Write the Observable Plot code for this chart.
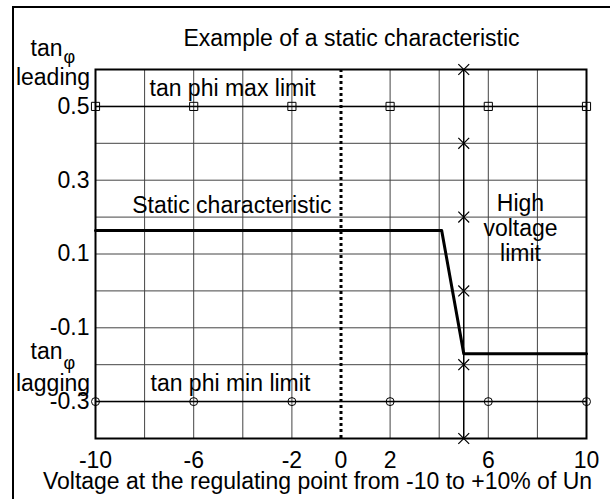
<!DOCTYPE html>
<html><head><meta charset="utf-8">
<script src="https://cdn.jsdelivr.net/npm/d3@7"></script>
<script src="https://cdn.jsdelivr.net/npm/@observablehq/plot@0.6"></script>
<style>
html,body{margin:0;padding:0;background:#fff;overflow:hidden;}
#wrap{position:relative;width:610px;height:499px;overflow:hidden;}
#border{position:absolute;left:12px;top:6px;width:640px;height:540px;border:2px solid #000;pointer-events:none;}
</style></head><body>
<div id="wrap"><div id="chart"></div><div id="border"></div></div>
<script>
const xTicks = [-10, -6, -2, 0, 2, 6, 10];
const yTicks = [0.5, 0.3, 0.1, -0.1, -0.3];
const gridXValues = [-8, -6, -4, -2, 2, 4, 6, 8];
const gridYValues = [-0.3, -0.2, -0.1, 0, 0.1, 0.2, 0.3, 0.4, 0.5];
const staticX = [-10, 4.1, 5, 10];
const staticY = [0.164, 0.164, -0.17, -0.17];
const limitMarkerX = [-10, -6, -2, 2, 6, 10];
const maxLimit = 0.5;
const minLimit = -0.3;
const highVoltageX = 5;
const highVoltageMarkerY = [0.6, 0.4, 0.2, 0, -0.2, -0.4];
const zeroLineX = 0;
const titleText = "Example of a static characteristic";
const xLabelText = "Voltage at the regulating point from -10 to +10% of Un";

const staticData = staticX.map((x, i) => ({x, y: staticY[i]}));

const chart = Plot.plot({
  width: 610, height: 499,
  marginLeft: 95, marginRight: 24, marginTop: 69, marginBottom: 61,
  style: {fontFamily: '"Liberation Sans", Arial, sans-serif', fontSize: "23px", color: "#000", background: "#fff", overflow: "visible"},
  x: {domain: [-10, 10], ticks: xTicks, tickSize: 0, tickPadding: 13, tickFormat: d => String(d), label: null},
  y: {domain: [-0.4, 0.6], ticks: yTicks, tickSize: 0, tickPadding: 6, tickFormat: d => String(d), label: null},
  marks: [
    Plot.ruleX(gridXValues, {stroke: "#444", strokeWidth: 1}),
    Plot.ruleY(gridYValues, {stroke: "#444", strokeWidth: 1}),
    Plot.ruleX([zeroLineX], {stroke: "#000", strokeWidth: 3, strokeDasharray: "3,3"}),
    Plot.ruleY([maxLimit], {stroke: "#000", strokeWidth: 1.5}),
    Plot.ruleY([minLimit], {stroke: "#000", strokeWidth: 1.5}),
    Plot.ruleX([highVoltageX], {stroke: "#000", strokeWidth: 1.5}),
    Plot.line(staticData, {x: "x", y: "y", stroke: "#000", strokeWidth: 3}),
    Plot.dot(limitMarkerX, {x: d => d, y: () => maxLimit, symbol: "square", r: 4.6, stroke: "#000", fill: "none", strokeWidth: 1}),
    Plot.dot(limitMarkerX, {x: d => d, y: () => minLimit, symbol: "circle", r: 4, stroke: "#000", fill: "none", strokeWidth: 1}),
    Plot.dot(highVoltageMarkerY, {x: () => highVoltageX, y: d => d, symbol: "times", r: 5, stroke: "#000", strokeWidth: 1.2}),
    Plot.frame({stroke: "#000", strokeWidth: 2}),
    Plot.text([titleText], {frameAnchor: "top", lineAnchor: "middle", dx: 10.5, dy: -30.8, fontSize: 23}),
    Plot.text([xLabelText], {frameAnchor: "bottom", lineAnchor: "middle", dx: -23.5, dy: 43.6}),
    Plot.text(["tan"], {x: -12.648, y: 0.657, textAnchor: "start"}),
    Plot.text(["φ"], {x: -11.3, y: 0.634, textAnchor: "start", fontSize: 18}),
    Plot.text(["leading"], {x: -11.731, y: 0.579}),
    Plot.text(["tan"], {x: -12.648, y: -0.1647, textAnchor: "start"}),
    Plot.text(["φ"], {x: -11.3, y: -0.195, textAnchor: "start", fontSize: 18}),
    Plot.text(["lagging"], {x: -11.731, y: -0.252}),
    Plot.text(["tan phi max limit"], {x: -7.8, y: 0.549, textAnchor: "start"}),
    Plot.text(["Static characteristic"], {x: -8.505, y: 0.23, textAnchor: "start"}),
    Plot.text(["tan phi min limit"], {x: -7.76, y: -0.252, textAnchor: "start"}),
    Plot.text(["High\nvoltage\nlimit"], {x: 7.31, y: 0.17, lineHeight: 1.09})
  ]
});
document.getElementById("chart").appendChild(chart);
</script>
</body></html>
